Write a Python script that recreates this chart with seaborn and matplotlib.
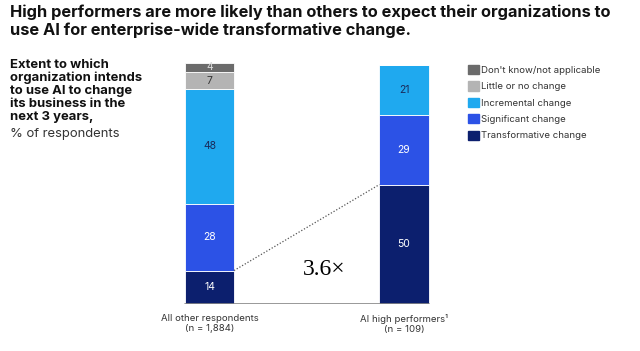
import matplotlib
matplotlib.use("Agg")
import matplotlib.pyplot as plt
import seaborn as sns
import numpy as np
import pandas as pd

groups = ["All other respondents", "AI high performers"]
group_labels = ["All other respondents\n(n = 1,884)", "AI high performers¹\n(n = 109)"]
segments = ["Transformative change", "Significant change", "Incremental change",
            "Little or no change", "Don't know/not applicable"]
transformative = [14, 50]
significant = [28, 29]
incremental = [48, 21]
little = [7, 0]
dont_know = [4, 0]
colors = ["#0c1f6e", "#2c52e6", "#1fa9ef", "#b4b4b4", "#6b6b6b"]
text_colors = ["white", "white", "#1a2a5a", "#333333", "#dddddd"]
ratio_label = "3.6×"

sns.set_theme(style="white")
plt.rcParams['font.family'] = ['Inter', 'DejaVu Sans']

W, H = 640, 351
fig = plt.figure(figsize=(W / 100, H / 100), dpi=100)
fig.patch.set_facecolor("white")

ax_l, ax_r, ax_b, ax_t = 160, 450, 304, 60
ax = fig.add_axes([ax_l / W, 1 - ax_b / H, (ax_r - ax_l) / W, (ax_b - ax_t) / H])

vals = [transformative, significant, incremental, little, dont_know]
bottom = np.zeros(2)
bar_w = 0.252
for seg, v, c in zip(segments, vals, colors):
    df = pd.DataFrame({"group": groups, "value": v})
    sns.barplot(data=df, x="group", y="value", order=groups, color=c, width=bar_w,
                bottom=bottom.copy(), ax=ax, edgecolor="white", linewidth=0.6,
                saturation=1, legend=False)
    bottom = bottom + np.array(v)

bottom = np.zeros(2)
for v, tc in zip(vals, text_colors):
    for i in range(2):
        if v[i] > 0:
            ax.text(i, bottom[i] + v[i] / 2, str(v[i]), ha="center", va="center",
                    fontsize=7.5, color=tc)
    bottom = bottom + np.array(v)

px_per_unit = 194.5
ax.set_xlim(-(209.5 - ax_l) / px_per_unit, 1 + (ax_r - 404) / px_per_unit)
ax.set_ylim(0, (ax_b - ax_t) / 2.39)
ax.axis("off")

ax.plot([-bar_w / 2, 1 + bar_w / 2], [0, 0], color="#888888", lw=1.2, zorder=5)

ax.plot([bar_w / 2, 1 - bar_w / 2], [transformative[0], transformative[1]],
        ls=(0, (1, 1.5)), color="#555555", lw=0.9)
ax.text(0.59, 14.3, ratio_label, ha="center", va="center", fontsize=17,
        family=["Liberation Serif", "DejaVu Serif"], color="black")

for i, lab in enumerate(group_labels):
    ax.text(i, -4, lab, ha="center", va="top", fontsize=6.9, color="#333333",
            linespacing=1.2)

handles = [plt.Rectangle((0, 0), 1, 1, color=c) for c in colors[::-1]]
fig.legend(handles, segments[::-1], loc="upper left", bbox_to_anchor=(468 / W, 1 - 65 / H),
           frameon=False, fontsize=6.9, handlelength=1.1, handleheight=1.1,
           handletextpad=0.3, labelspacing=0.68, borderaxespad=0, borderpad=0,
           labelcolor="#333333")

fig.text(10 / W, 1 - 4 / H,
         "High performers are more likely than others to expect their organizations to\nuse AI for enterprise-wide transformative change.",
         ha="left", va="top", fontsize=11.8, fontweight="bold", color="#111111",
         linespacing=1.2)

fig.text(10 / W, 1 - 59 / H,
         "Extent to which\norganization intends\nto use AI to change\nits business in the\nnext 3 years,",
         ha="left", va="top", fontsize=9.4, fontweight="bold", color="#111111",
         linespacing=1.1)
fig.text(10 / W, 1 - 128 / H, "% of respondents", ha="left", va="top", fontsize=9.4,
         color="#333333")

fig.savefig("out.png", dpi=100, facecolor="white")
